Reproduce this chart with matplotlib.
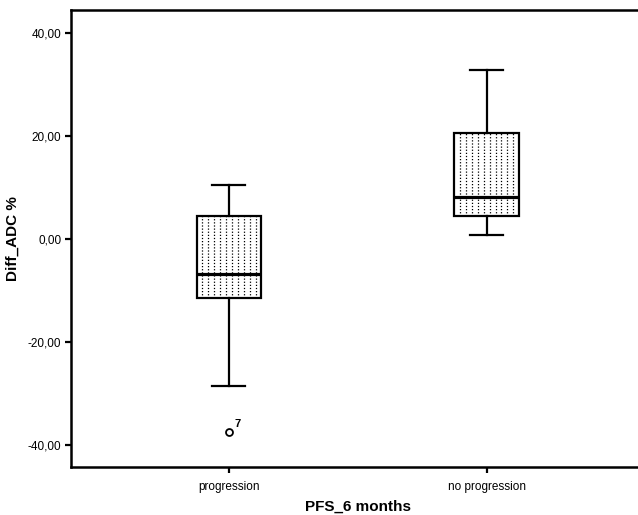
import matplotlib
matplotlib.use("Agg")
import matplotlib.pyplot as plt
from matplotlib.lines import Line2D

plt.rcParams['font.family'] = ['Liberation Sans', 'DejaVu Sans']

groups = ["progression", "no progression"]
whisker_low = [-28.6, 0.85]
q1 = [-11.4, 4.45]
median = [-6.85, 8.15]
q3 = [4.4, 20.6]
whisker_high = [10.4, 32.9]
outliers = [[-37.4], []]
outlier_ids = [["7"], []]

y_ticks = [-40, -20, 0, 20, 40]

fig = plt.figure(figsize=(6.38, 5.15), dpi=100)
# axes right edge runs past the figure, like the cropped original
ax = fig.add_axes([71 / 638, 1 - 467.3 / 515, (644.7 - 71) / 638, (467.3 - 10) / 515])

stats = []
for i, g in enumerate(groups):
    stats.append(dict(label=g, whislo=whisker_low[i], q1=q1[i], med=median[i],
                      q3=q3[i], whishi=whisker_high[i], fliers=outliers[i]))

pos = [1, 2]
bp = ax.bxp(stats, positions=pos, widths=0.252, patch_artist=True,
            boxprops=dict(facecolor="white", edgecolor="black", linewidth=1.6),
            medianprops=dict(color="black", linewidth=2.3),
            whiskerprops=dict(color="black", linewidth=1.6),
            capprops=dict(color="black", linewidth=1.6),
            capwidths=0.128,
            flierprops=dict(marker="o", markerfacecolor="white", markeredgecolor="black",
                            markersize=5, markeredgewidth=1.3))

# dotted fill pattern inside the boxes
for i, box in enumerate(bp["boxes"]):
    left = pos[i] - 0.126
    n = 11
    for k in range(1, n):
        xx = left + 0.252 * k / n
        ln = Line2D([xx, xx], [q1[i], q3[i]], color="black", linewidth=0.9,
                    linestyle=(0, (1, 1.5)), zorder=box.get_zorder() + 0.1)
        ln.set_clip_path(box)
        ax.add_line(ln)

for i in range(len(groups)):
    for v, lab in zip(outliers[i], outlier_ids[i]):
        ax.annotate(lab, (pos[i], v), xytext=(4, 3), textcoords="offset points",
                    fontsize=8, fontweight="bold")

ax.set_xlim(0.387, 2.613)
ax.set_ylim(-44.33, 44.47)
ax.set_yticks(y_ticks)
ax.set_yticklabels([f"{t:.2f}".replace(".", ",") for t in y_ticks])
ax.set_xticks(pos)
ax.set_xticklabels(groups)
ax.tick_params(axis="both", labelsize=8.5, width=1.6, length=4, direction="out")
ax.tick_params(axis="y", pad=3)
ax.tick_params(axis="x", pad=6)

for s in ["left", "bottom", "top"]:
    ax.spines[s].set_linewidth(1.8)
ax.spines["right"].set_visible(False)

ax.set_ylabel("Diff_ADC %", fontsize=11, fontweight="bold", labelpad=6)
ax.set_xlabel("PFS_6 months", fontsize=11, fontweight="bold", labelpad=5)

fig.savefig("out.png", dpi=100)
